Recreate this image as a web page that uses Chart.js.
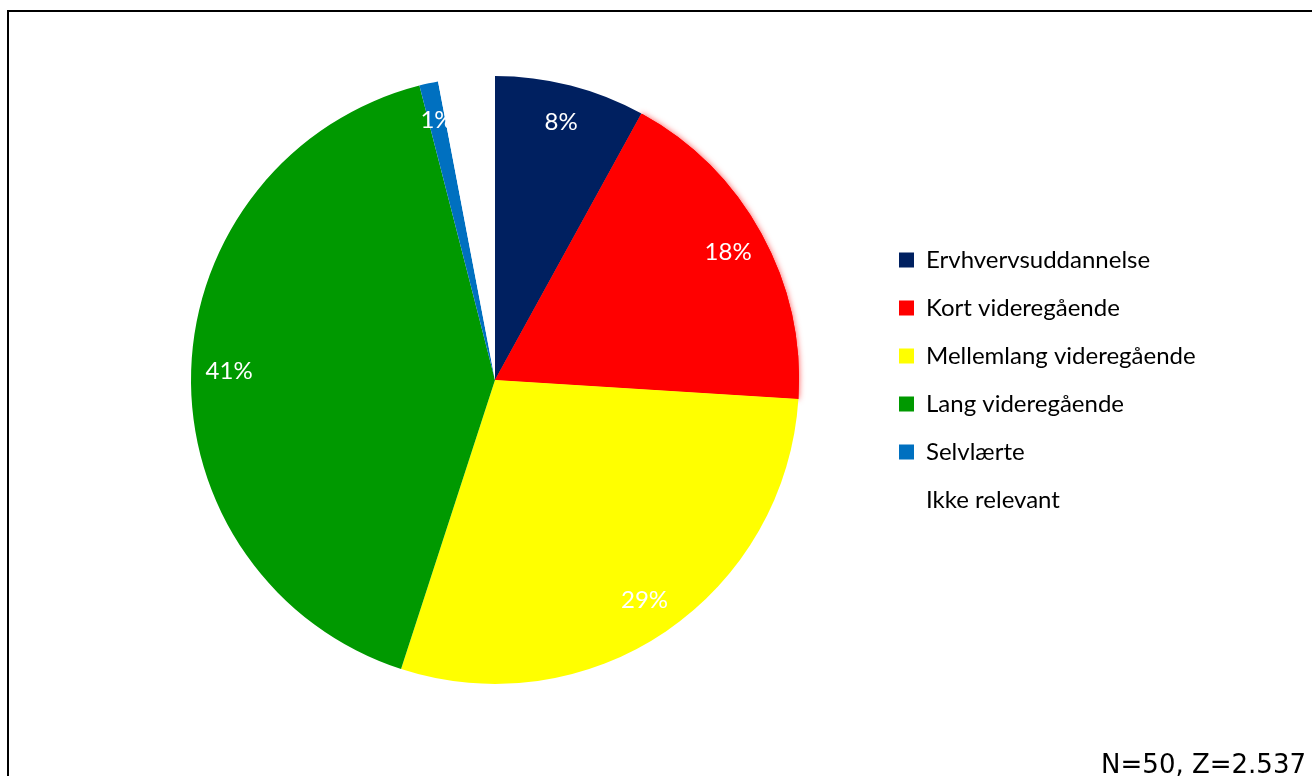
<!DOCTYPE html>
<html lang="da">

<head>
    <meta charset="UTF-8">
    <title>Uddannelsesniveau</title>
    <style>
        body {
            margin: 0;
            background: #fff;
            overflow: hidden;
        }

        .frame {
            position: absolute;
            left: 7px;
            top: 10px;
            width: 1400px;
            height: 900px;
            border-top: 2px solid #000;
            border-left: 2px solid #000;
        }

        .wrap {
            position: absolute;
            left: 0;
            top: 0;
            width: 1312px;
            height: 776px;
        }
    </style>
</head>

<body>

    <div class="frame"></div>
    <div class="wrap">
        <canvas id="eduChart" width="1312" height="776"></canvas>
    </div>

    <script src="https://cdn.jsdelivr.net/npm/chart.js"></script>
    <script>
        const categories = ['Ervhvervsuddannelse', 'Kort videregående', 'Mellemlang videregående',
            'Lang videregående', 'Selvlærte', 'Ikke relevant'];
        const shares = [8, 18, 29, 41, 1, 3];
        const sliceColors = ['#002060', '#ff0000', '#ffff00', '#009900', '#0070c0', '#ffffff'];
        const footnote = 'N=50, Z=2.537';

        const labelFont = { family: 'Lato', size: 24 };
        const legendPad = 24;
        const boxSize = 15;

        // legend width, so the pie ends up where we want it
        const m = document.createElement('canvas').getContext('2d');
        m.font = labelFont.size + 'px ' + labelFont.family;
        const longest = Math.max(...categories.map(c => m.measureText(c).width));
        const legendWidth = legendPad + boxSize + labelFont.size / 2 + longest + 12;
        const areaRight = 873;
        const pieCenterX = 494;

        // percentage labels inside the slices
        const sliceLabels = {
            id: 'sliceLabels',
            afterDatasetsDraw(chart) {
                const ctx = chart.ctx;
                const meta = chart.getDatasetMeta(0);
                ctx.save();
                ctx.font = labelFont.size + 'px ' + labelFont.family;
                ctx.fillStyle = '#fff';
                ctx.textAlign = 'center';
                ctx.textBaseline = 'middle';
                meta.data.forEach((arc, i) => {
                    if (sliceColors[i] === '#ffffff') return;
                    const a = (arc.startAngle + arc.endAngle) / 2;
                    const r = arc.outerRadius * 0.875;
                    ctx.fillText(shares[i] + '%', arc.x + Math.cos(a) * r, arc.y + Math.sin(a) * r);
                });
                ctx.restore();
            }
        };

        // soft edge on the red slice
        const redGlow = {
            id: 'redGlow',
            beforeDatasetsDraw(chart) {
                const arc = chart.getDatasetMeta(0).data[1];
                const ctx = chart.ctx;
                ctx.save();
                ctx.shadowColor = 'rgba(255,0,0,0.7)';
                ctx.shadowBlur = 6;
                arc.draw(ctx);
                ctx.restore();
            }
        };

        const footnoteText = {
            id: 'footnoteText',
            afterDraw(chart) {
                const ctx = chart.ctx;
                ctx.save();
                ctx.font = '26px "DejaVu Sans"';
                ctx.fillStyle = '#000';
                ctx.textAlign = 'right';
                ctx.textBaseline = 'alphabetic';
                ctx.fillText(footnote, 1306, 773);
                ctx.restore();
            }
        };

        new Chart(document.getElementById('eduChart'), {
            type: 'pie',
            data: {
                labels: categories,
                datasets: [{
                    data: shares,
                    backgroundColor: sliceColors,
                    borderWidth: 0,
                    hoverOffset: 0
                }]
            },
            options: {
                responsive: false,
                animation: false,
                devicePixelRatio: 1,
                layout: {
                    padding: {
                        left: 2 * pieCenterX - areaRight,
                        right: 1312 - areaRight - legendWidth,
                        top: 76,
                        bottom: 92
                    }
                },
                plugins: {
                    legend: {
                        position: 'right',
                        labels: {
                            boxWidth: boxSize,
                            boxHeight: boxSize,
                            padding: legendPad,
                            color: '#000',
                            font: labelFont
                        }
                    },
                    tooltip: { enabled: false }
                }
            },
            plugins: [redGlow, sliceLabels, footnoteText]
        });
    </script>
</body>

</html>
